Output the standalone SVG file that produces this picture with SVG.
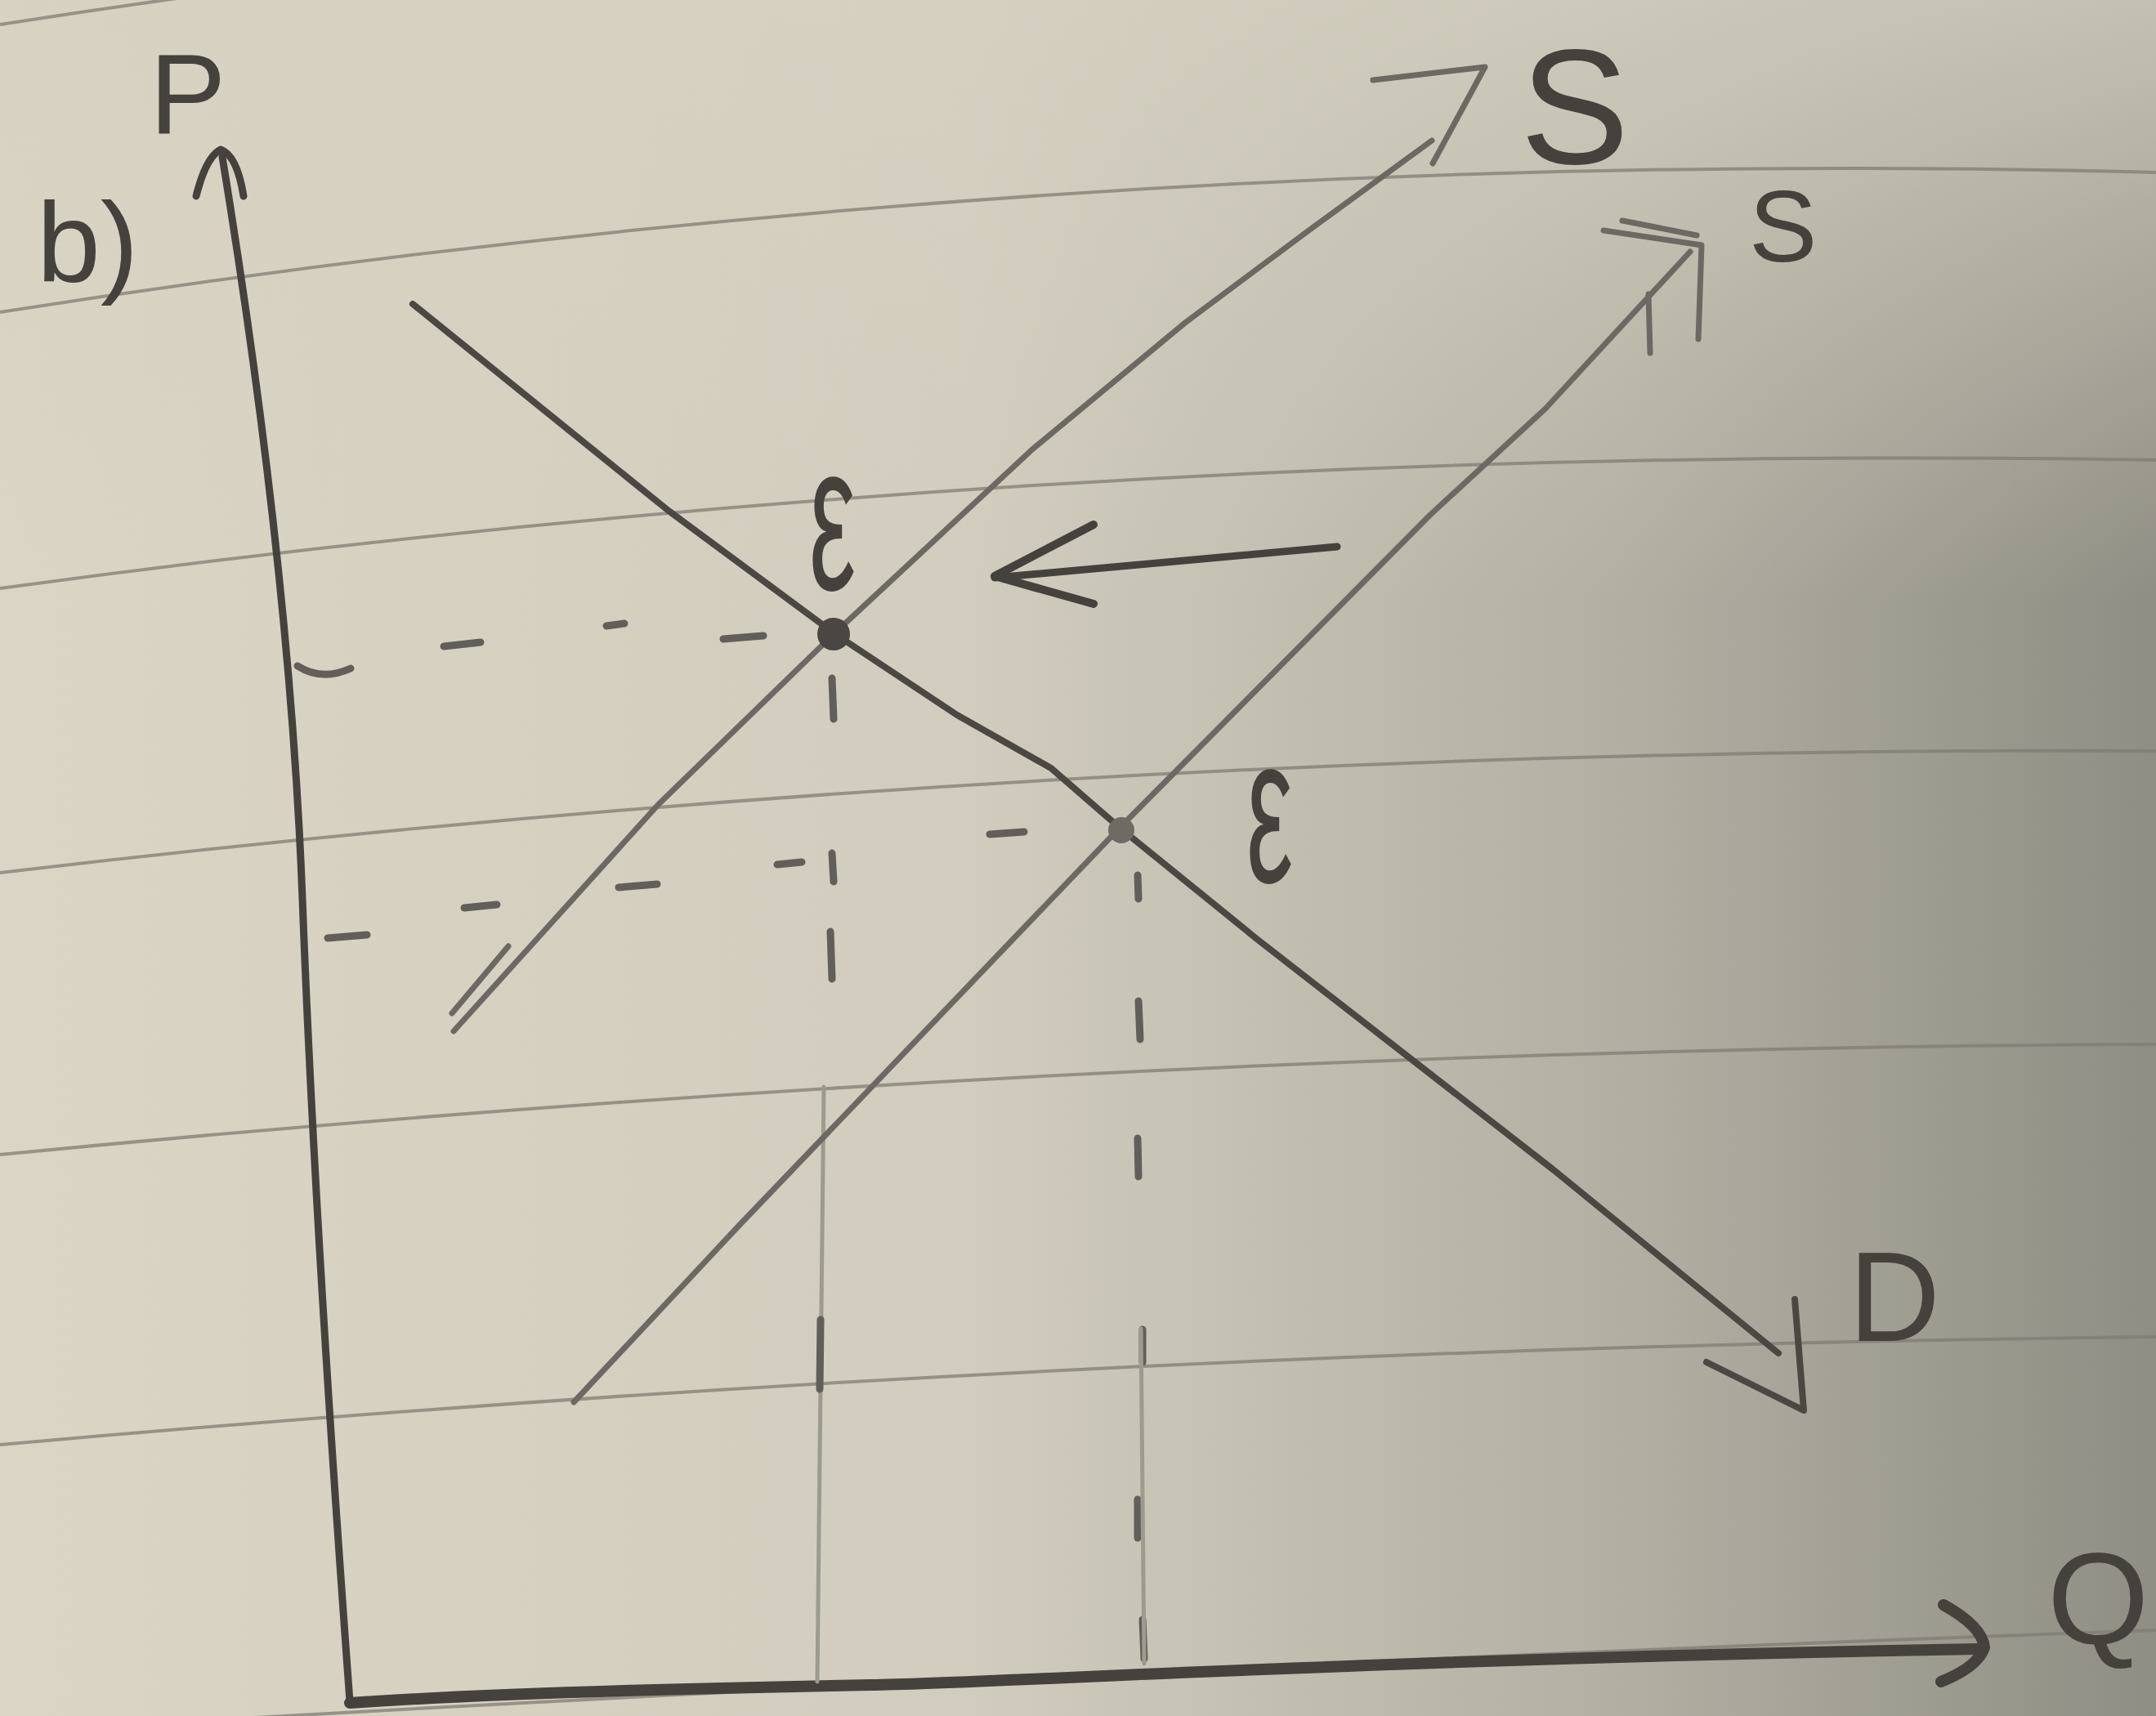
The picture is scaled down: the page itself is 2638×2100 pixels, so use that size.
<svg xmlns="http://www.w3.org/2000/svg" width="2638" height="2100" viewBox="0 0 2638 2100">
<defs>
  <linearGradient id="paper" x1="0" y1="0" x2="1" y2="0">
    <stop offset="0" stop-color="#dbd5c5"/>
    <stop offset="0.45" stop-color="#d1ccbd"/>
    <stop offset="0.75" stop-color="#b2b0a3"/>
    <stop offset="1" stop-color="#8f8e84"/>
  </linearGradient>
  <linearGradient id="sheen" x1="0" y1="0" x2="0" y2="1">
    <stop offset="0" stop-color="#d6d1c1" stop-opacity="0.75"/>
    <stop offset="0.35" stop-color="#d6d1c1" stop-opacity="0"/>
  </linearGradient>
</defs>
<style>
  .rule{fill:none;stroke:#7f7c73;stroke-width:4;opacity:.75}
  .pen{fill:none;stroke:#45423e;stroke-linecap:round;stroke-linejoin:round}
  .axis{stroke-width:9}
  .haxis{stroke-width:14}
  .dem{stroke:#4b4844;stroke-width:8}
  .sup{stroke:#6c6964;stroke-width:7}
  .dash{fill:none;stroke:#625f5a;stroke-width:9;stroke-linecap:round}
  .faint{fill:none;stroke:#9d9a8f;stroke-width:5;stroke-linecap:round}
  .lbl{font-family:"Liberation Sans","DejaVu Sans",sans-serif;fill:#45423e}
</style>

<g id="paper-bg">
  <rect x="0" y="0" width="2638" height="2100" fill="url(#paper)"/>
  <rect x="0" y="0" width="2638" height="2100" fill="url(#sheen)"/>
  <path class="rule" d="M0,30 Q1319,-175 2638,-140"/>
  <path class="rule" d="M0,382 Q1319,176 2638,211"/>
  <path class="rule" d="M0,720 Q1319,540 2638,563"/>
  <path class="rule" d="M0,1068 Q1319,912 2638,919"/>
  <path class="rule" d="M0,1413 Q1319,1284 2638,1278"/>
  <path class="rule" d="M0,1768 Q1319,1650 2638,1636"/>
  <path class="rule" d="M0,2120 Q1319,2042 2638,1995"/>
</g>

<g id="connectors">
  <g id="p-axis">
    <path class="pen axis" d="M272,192 Q355,700 370,1100 T428,2082"/>
    <path class="pen axis" d="M240,240 Q252,192 270,183 Q290,190 298,240"/>
  </g>
  <g id="q-axis">
    <path class="pen haxis" d="M428,2084 C600,2072 900,2065 1065,2062 S1700,2030 2420,2018"/>
    <path class="pen haxis" stroke-width="12" d="M2378,1964 Q2425,1990 2428,2016 Q2420,2040 2375,2058"/>
  </g>
  <g id="guides">
    <path class="dash" d="M364,815 Q394,834 429,818"/>
    <path class="dash" d="M543,791 L588,786"/>
    <path class="dash" d="M742,766 L764,763"/>
    <path class="dash" d="M885,782 L934,778"/>
    <path class="dash" d="M401,1148 L449,1144"/>
    <path class="dash" d="M568,1111 L608,1107"/>
    <path class="dash" d="M757,1086 L804,1082"/>
    <path class="dash" d="M951,1058 L981,1055"/>
    <path class="dash" d="M1211,1021 L1253,1018"/>
    <path class="dash" d="M1018,830 L1020,880"/>
    <path class="dash" d="M1018,1044 L1020,1079"/>
    <path class="dash" d="M1016,1140 L1018,1198"/>
    <path class="faint" d="M1008,1330 L1000,2058"/>
    <path class="dash" stroke-width="6" stroke="#86837a" d="M1004,1615 L1003,1700"/>
    <path class="dash" d="M1392,1071 L1393,1100"/>
    <path class="dash" d="M1393,1225 L1395,1272"/>
    <path class="dash" d="M1392,1393 L1393,1440"/>
    <path class="dash" d="M1398,1627 L1398,1667"/>
    <path class="dash" d="M1392,1835 L1392,1882"/>
    <path class="dash" d="M1398,1982 L1400,2030"/>
    <path class="faint" d="M1396,1626 L1400,2036"/>
  </g>
  <g id="demand">
    <polyline class="pen dem" points="505,372 818,625 1022,776 1171,875 1286,940 1370,1013 1539,1150 1900,1431 2176,1656"/>
    <path class="pen dem" d="M2196,1590 L2207,1726 L2088,1667"/>
  </g>
  <g id="supply-1">
    <polyline class="pen sup" points="555,1262 805,985 1020,776 1263,550 1450,395 1600,283 1752,172"/>
    <path class="pen sup" stroke-width="10" d="M1680,98 L1817,82 L1753,200"/>
    <path class="pen sup" stroke-width="10" d="M553,1240 L622,1158"/>
  </g>
  <g id="supply-2">
    <polyline class="pen sup" points="702,1716 904,1500 1370,1013 1750,630 1891,500 2068,308"/>
    <path class="pen sup" stroke-width="10" d="M1962,282 L2082,300 L2078,415"/>
    <path class="pen sup" stroke-width="8" d="M1985,270 L2076,288"/>
    <path class="pen sup" stroke-width="7" d="M2017,360 L2019,432"/>
  </g>
  <g id="shift-arrow">
    <path class="pen" stroke="#55524d" stroke-width="9" d="M1636,669 Q1420,688 1217,707"/>
    <path class="pen" stroke="#55524d" stroke-width="10" d="M1338,642 L1217,705 L1338,739"/>
  </g>
</g>

<g id="equilibrium-1">
  <circle cx="1020" cy="776" r="20" fill="#4a4642"/>
  <text class="lbl" font-size="160" transform="translate(990,722) scale(0.8,1.6)">ε</text>
</g>
<g id="equilibrium-2">
  <circle cx="1372" cy="1016" r="16" fill="#6e6b65"/>
  <text class="lbl" font-size="160" transform="translate(1525,1080) scale(0.8,1.6)">ε</text>
</g>

<g id="labels">
  <text class="lbl" x="45" y="345" font-size="140">b)</text>
  <text class="lbl" x="183" y="163" font-size="140">P</text>
  <text class="lbl" x="1860" y="200" font-size="200">S</text>
  <text class="lbl" x="2140" y="320" font-size="125">S</text>
  <text class="lbl" x="2262" y="1641" font-size="155">D</text>
  <text class="lbl" x="2505" y="2012" font-size="160">Q</text>
</g>
</svg>
